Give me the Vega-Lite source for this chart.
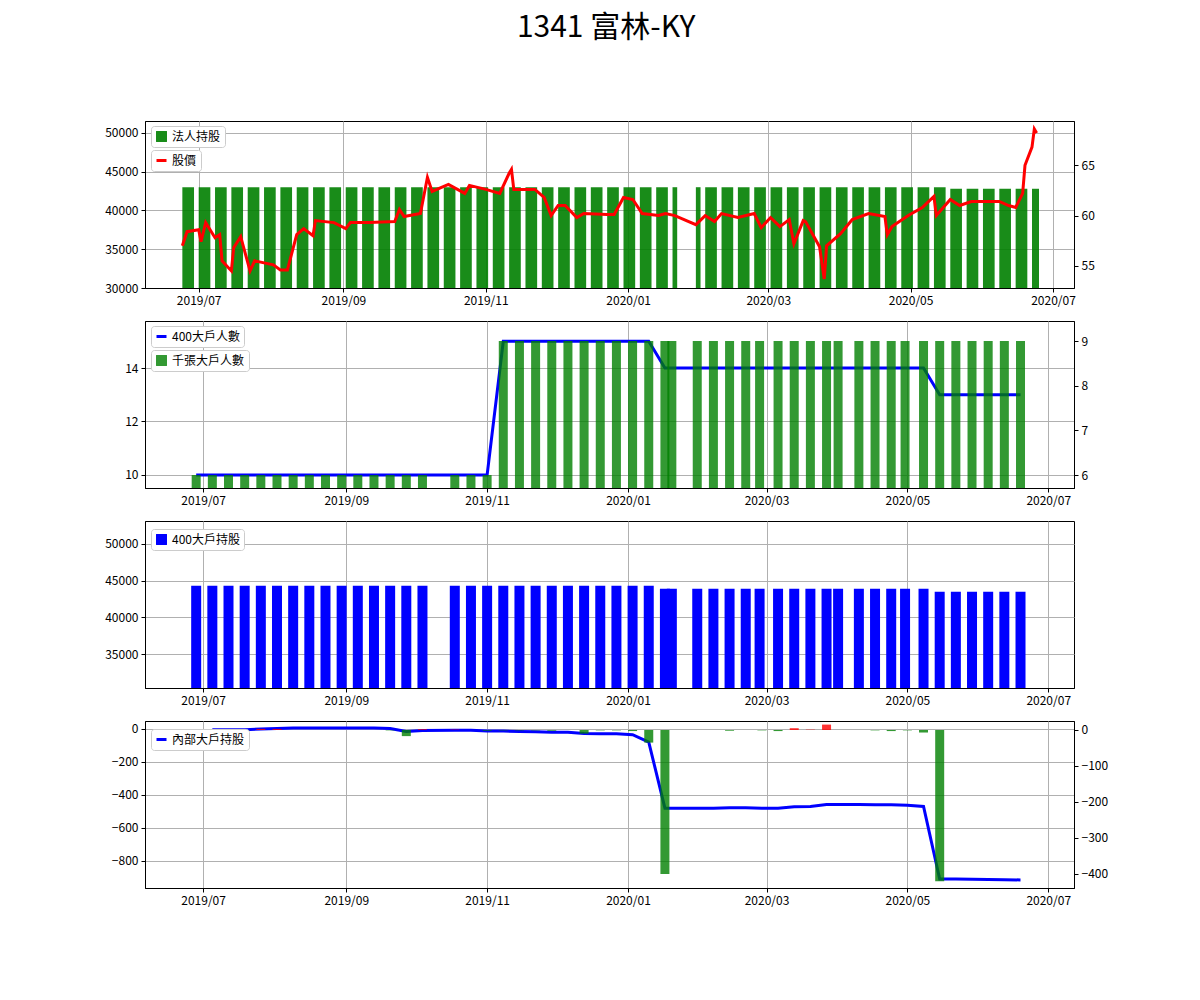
{
  "$schema": "https://vega.github.io/schema/vega-lite/v6.json",
  "padding": {"left": 104, "top": 12, "right": 10, "bottom": 10},
  "title": {"text": "1341 富林-KY", "fontSize": 30, "fontWeight": "normal", "font": "Noto Sans CJK TC", "offset": 78, "anchor": "middle"},
  "spacing": 13,
  "resolve": {"scale": {"color": "independent", "stroke": "independent"}, "legend": {"color": "independent", "stroke": "independent"}},
  "config": {
    "view": {"stroke": "black", "strokeWidth": 1},
    "font": "Noto Sans CJK TC",
    "axis": {"labelFontSize": 12, "labelColor": "black", "domainColor": "black", "tickColor": "black", "gridColor": "#b0b0b0", "title": null, "labelPadding": 3, "tickSize": 4},
    "axisQuantitative": {"format": "d"},
    "legend": {"orient": "none", "legendX": 6, "fillColor": "white", "strokeColor": "#cccccc", "padding": 4, "cornerRadius": 3, "labelFontSize": 12, "labelFont": "Noto Sans CJK TC", "title": null}
  },
  "datasets": {
    "p1bars": [
      {"s": "2019-06-24", "e": "2019-06-29", "v": 43000}, {"s": "2019-07-01", "e": "2019-07-06", "v": 43000},
      {"s": "2019-07-08", "e": "2019-07-13", "v": 43000}, {"s": "2019-07-15", "e": "2019-07-20", "v": 43000},
      {"s": "2019-07-22", "e": "2019-07-27", "v": 43000}, {"s": "2019-07-29", "e": "2019-08-03", "v": 43000},
      {"s": "2019-08-05", "e": "2019-08-10", "v": 43000}, {"s": "2019-08-12", "e": "2019-08-17", "v": 43000},
      {"s": "2019-08-19", "e": "2019-08-24", "v": 43000}, {"s": "2019-08-26", "e": "2019-08-31", "v": 43000},
      {"s": "2019-09-02", "e": "2019-09-07", "v": 43000}, {"s": "2019-09-09", "e": "2019-09-14", "v": 43000},
      {"s": "2019-09-16", "e": "2019-09-21", "v": 43000}, {"s": "2019-09-23", "e": "2019-09-28", "v": 43000},
      {"s": "2019-09-30", "e": "2019-10-05", "v": 43000}, {"s": "2019-10-07", "e": "2019-10-12", "v": 43000},
      {"s": "2019-10-14", "e": "2019-10-19", "v": 43000}, {"s": "2019-10-21", "e": "2019-10-26", "v": 43000},
      {"s": "2019-10-28", "e": "2019-11-02", "v": 43000}, {"s": "2019-11-04", "e": "2019-11-09", "v": 43000},
      {"s": "2019-11-11", "e": "2019-11-16", "v": 43000}, {"s": "2019-11-18", "e": "2019-11-23", "v": 43000},
      {"s": "2019-11-25", "e": "2019-11-30", "v": 43000}, {"s": "2019-12-02", "e": "2019-12-07", "v": 43000},
      {"s": "2019-12-09", "e": "2019-12-14", "v": 43000}, {"s": "2019-12-16", "e": "2019-12-21", "v": 43000},
      {"s": "2019-12-23", "e": "2019-12-28", "v": 43000}, {"s": "2019-12-30", "e": "2020-01-04", "v": 43000},
      {"s": "2020-01-06", "e": "2020-01-11", "v": 43000}, {"s": "2020-01-13", "e": "2020-01-18", "v": 43000},
      {"s": "2020-01-20", "e": "2020-01-22", "v": 43000}, {"s": "2020-01-30", "e": "2020-02-01", "v": 43000},
      {"s": "2020-02-03", "e": "2020-02-08", "v": 43000}, {"s": "2020-02-10", "e": "2020-02-15", "v": 43000},
      {"s": "2020-02-17", "e": "2020-02-22", "v": 43000}, {"s": "2020-02-24", "e": "2020-02-29", "v": 43000},
      {"s": "2020-03-02", "e": "2020-03-07", "v": 43000}, {"s": "2020-03-09", "e": "2020-03-14", "v": 43000},
      {"s": "2020-03-16", "e": "2020-03-21", "v": 43000}, {"s": "2020-03-23", "e": "2020-03-28", "v": 43000},
      {"s": "2020-03-30", "e": "2020-04-04", "v": 43000}, {"s": "2020-04-06", "e": "2020-04-11", "v": 43000},
      {"s": "2020-04-13", "e": "2020-04-18", "v": 43000}, {"s": "2020-04-20", "e": "2020-04-25", "v": 43000},
      {"s": "2020-04-27", "e": "2020-05-02", "v": 43000}, {"s": "2020-05-04", "e": "2020-05-09", "v": 43000},
      {"s": "2020-05-11", "e": "2020-05-16", "v": 43000}, {"s": "2020-05-18", "e": "2020-05-23", "v": 42800},
      {"s": "2020-05-25", "e": "2020-05-30", "v": 42800}, {"s": "2020-06-01", "e": "2020-06-06", "v": 42800},
      {"s": "2020-06-08", "e": "2020-06-13", "v": 42800}, {"s": "2020-06-15", "e": "2020-06-20", "v": 42800},
      {"s": "2020-06-22", "e": "2020-06-25", "v": 42800}
    ],
    "price": [
      {"d": "2019-06-24", "p": 57.0}, {"d": "2019-06-26", "p": 58.4}, {"d": "2019-07-01", "p": 58.6}, {"d": "2019-07-02", "p": 57.4},
      {"d": "2019-07-04", "p": 59.3}, {"d": "2019-07-08", "p": 57.8}, {"d": "2019-07-10", "p": 58.1}, {"d": "2019-07-11", "p": 55.5},
      {"d": "2019-07-15", "p": 54.5}, {"d": "2019-07-16", "p": 56.8}, {"d": "2019-07-19", "p": 57.9}, {"d": "2019-07-23", "p": 54.5},
      {"d": "2019-07-25", "p": 55.5}, {"d": "2019-08-02", "p": 55.1}, {"d": "2019-08-05", "p": 54.6}, {"d": "2019-08-08", "p": 54.6},
      {"d": "2019-08-12", "p": 58.1}, {"d": "2019-08-15", "p": 58.7}, {"d": "2019-08-19", "p": 58.0}, {"d": "2019-08-20", "p": 59.5},
      {"d": "2019-08-28", "p": 59.3}, {"d": "2019-09-02", "p": 58.7}, {"d": "2019-09-04", "p": 59.3}, {"d": "2019-09-12", "p": 59.3},
      {"d": "2019-09-23", "p": 59.4}, {"d": "2019-09-25", "p": 60.6}, {"d": "2019-09-27", "p": 59.9}, {"d": "2019-10-04", "p": 60.2},
      {"d": "2019-10-07", "p": 63.8}, {"d": "2019-10-09", "p": 62.4}, {"d": "2019-10-16", "p": 63.1}, {"d": "2019-10-23", "p": 62.2},
      {"d": "2019-10-25", "p": 63.0}, {"d": "2019-11-01", "p": 62.6}, {"d": "2019-11-07", "p": 62.2}, {"d": "2019-11-11", "p": 64.2},
      {"d": "2019-11-12", "p": 64.6}, {"d": "2019-11-13", "p": 62.6}, {"d": "2019-11-22", "p": 62.6}, {"d": "2019-11-26", "p": 61.8},
      {"d": "2019-11-29", "p": 60.0}, {"d": "2019-12-02", "p": 61.0}, {"d": "2019-12-05", "p": 61.0}, {"d": "2019-12-10", "p": 59.8},
      {"d": "2019-12-13", "p": 60.2}, {"d": "2019-12-23", "p": 60.1}, {"d": "2019-12-26", "p": 60.1}, {"d": "2019-12-30", "p": 61.8},
      {"d": "2020-01-03", "p": 61.6}, {"d": "2020-01-07", "p": 60.2}, {"d": "2020-01-14", "p": 60.0}, {"d": "2020-01-17", "p": 60.2},
      {"d": "2020-01-21", "p": 60.0}, {"d": "2020-01-30", "p": 59.1}, {"d": "2020-02-03", "p": 60.0}, {"d": "2020-02-07", "p": 59.4},
      {"d": "2020-02-10", "p": 60.2}, {"d": "2020-02-17", "p": 59.8}, {"d": "2020-02-24", "p": 60.2}, {"d": "2020-02-27", "p": 58.8},
      {"d": "2020-03-02", "p": 59.8}, {"d": "2020-03-06", "p": 58.9}, {"d": "2020-03-10", "p": 59.6}, {"d": "2020-03-12", "p": 57.2},
      {"d": "2020-03-16", "p": 59.5}, {"d": "2020-03-17", "p": 59.4}, {"d": "2020-03-23", "p": 56.9}, {"d": "2020-03-25", "p": 53.7},
      {"d": "2020-03-26", "p": 57.0}, {"d": "2020-04-01", "p": 58.2}, {"d": "2020-04-06", "p": 59.6}, {"d": "2020-04-13", "p": 60.2},
      {"d": "2020-04-20", "p": 59.9}, {"d": "2020-04-21", "p": 58.1}, {"d": "2020-04-23", "p": 58.9}, {"d": "2020-04-30", "p": 60.0},
      {"d": "2020-05-06", "p": 60.8}, {"d": "2020-05-11", "p": 61.9}, {"d": "2020-05-12", "p": 60.0}, {"d": "2020-05-18", "p": 61.6},
      {"d": "2020-05-22", "p": 61.0}, {"d": "2020-05-27", "p": 61.4}, {"d": "2020-06-08", "p": 61.4}, {"d": "2020-06-12", "p": 61.0},
      {"d": "2020-06-15", "p": 60.8}, {"d": "2020-06-18", "p": 62.2}, {"d": "2020-06-19", "p": 65.0}, {"d": "2020-06-22", "p": 66.8},
      {"d": "2020-06-23", "p": 68.6}, {"d": "2020-06-24", "p": 68.2}
    ],
    "weekly": [
      {"d": "2019-06-28", "n400": 10, "n1000": 6, "h400": 44300}, {"d": "2019-07-05", "n400": 10, "n1000": 6, "h400": 44300},
      {"d": "2019-07-12", "n400": 10, "n1000": 6, "h400": 44300}, {"d": "2019-07-19", "n400": 10, "n1000": 6, "h400": 44300},
      {"d": "2019-07-26", "n400": 10, "n1000": 6, "h400": 44300}, {"d": "2019-08-02", "n400": 10, "n1000": 6, "h400": 44300},
      {"d": "2019-08-09", "n400": 10, "n1000": 6, "h400": 44300}, {"d": "2019-08-16", "n400": 10, "n1000": 6, "h400": 44300},
      {"d": "2019-08-23", "n400": 10, "n1000": 6, "h400": 44300}, {"d": "2019-08-30", "n400": 10, "n1000": 6, "h400": 44300},
      {"d": "2019-09-06", "n400": 10, "n1000": 6, "h400": 44300}, {"d": "2019-09-13", "n400": 10, "n1000": 6, "h400": 44300},
      {"d": "2019-09-20", "n400": 10, "n1000": 6, "h400": 44300}, {"d": "2019-09-27", "n400": 10, "n1000": 6, "h400": 44300},
      {"d": "2019-10-04", "n400": 10, "n1000": 6, "h400": 44300}, {"d": "2019-10-18", "n400": 10, "n1000": 6, "h400": 44300},
      {"d": "2019-10-25", "n400": 10, "n1000": 6, "h400": 44300}, {"d": "2019-11-01", "n400": 10, "n1000": 6, "h400": 44300},
      {"d": "2019-11-08", "n400": 15, "n1000": 9, "h400": 44300}, {"d": "2019-11-15", "n400": 15, "n1000": 9, "h400": 44300},
      {"d": "2019-11-22", "n400": 15, "n1000": 9, "h400": 44300}, {"d": "2019-11-29", "n400": 15, "n1000": 9, "h400": 44300},
      {"d": "2019-12-06", "n400": 15, "n1000": 9, "h400": 44300}, {"d": "2019-12-13", "n400": 15, "n1000": 9, "h400": 44300},
      {"d": "2019-12-20", "n400": 15, "n1000": 9, "h400": 44300}, {"d": "2019-12-27", "n400": 15, "n1000": 9, "h400": 44300},
      {"d": "2020-01-03", "n400": 15, "n1000": 9, "h400": 44300}, {"d": "2020-01-10", "n400": 15, "n1000": 9, "h400": 44300},
      {"d": "2020-01-17", "n400": 14, "n1000": 9, "h400": 43900}, {"d": "2020-01-20", "n400": 14, "n1000": 9, "h400": 43900},
      {"d": "2020-01-31", "n400": 14, "n1000": 9, "h400": 43900}, {"d": "2020-02-07", "n400": 14, "n1000": 9, "h400": 43900},
      {"d": "2020-02-14", "n400": 14, "n1000": 9, "h400": 43900}, {"d": "2020-02-21", "n400": 14, "n1000": 9, "h400": 43900},
      {"d": "2020-02-27", "n400": 14, "n1000": 9, "h400": 43900}, {"d": "2020-03-06", "n400": 14, "n1000": 9, "h400": 43900},
      {"d": "2020-03-13", "n400": 14, "n1000": 9, "h400": 43900}, {"d": "2020-03-20", "n400": 14, "n1000": 9, "h400": 43900},
      {"d": "2020-03-27", "n400": 14, "n1000": 9, "h400": 43900}, {"d": "2020-04-01", "n400": 14, "n1000": 9, "h400": 43900},
      {"d": "2020-04-10", "n400": 14, "n1000": 9, "h400": 43900}, {"d": "2020-04-17", "n400": 14, "n1000": 9, "h400": 43900},
      {"d": "2020-04-24", "n400": 14, "n1000": 9, "h400": 43900}, {"d": "2020-04-30", "n400": 14, "n1000": 9, "h400": 43900},
      {"d": "2020-05-08", "n400": 14, "n1000": 9, "h400": 43900}, {"d": "2020-05-15", "n400": 13, "n1000": 9, "h400": 43500},
      {"d": "2020-05-22", "n400": 13, "n1000": 9, "h400": 43500}, {"d": "2020-05-29", "n400": 13, "n1000": 9, "h400": 43500},
      {"d": "2020-06-05", "n400": 13, "n1000": 9, "h400": 43500}, {"d": "2020-06-12", "n400": 13, "n1000": 9, "h400": 43500},
      {"d": "2020-06-19", "n400": 13, "n1000": 9, "h400": 43500}
    ],
    "inner": [
      {"d": "2019-07-05", "line": -5, "diff": -1}, {"d": "2019-07-12", "line": -5, "diff": -3}, {"d": "2019-07-19", "line": -5, "diff": -3},
      {"d": "2019-07-26", "line": 0, "diff": 3}, {"d": "2019-08-02", "line": 3, "diff": 3}, {"d": "2019-08-09", "line": 5, "diff": 0},
      {"d": "2019-08-16", "line": 5, "diff": 0}, {"d": "2019-08-23", "line": 5, "diff": 0}, {"d": "2019-08-30", "line": 5, "diff": 0},
      {"d": "2019-09-06", "line": 5, "diff": 0}, {"d": "2019-09-13", "line": 5, "diff": 0}, {"d": "2019-09-20", "line": 3, "diff": -1},
      {"d": "2019-09-27", "line": -15, "diff": -17}, {"d": "2019-10-04", "line": -10, "diff": 2}, {"d": "2019-10-18", "line": -8, "diff": 1},
      {"d": "2019-10-25", "line": -8, "diff": 0}, {"d": "2019-11-01", "line": -12, "diff": -2}, {"d": "2019-11-08", "line": -13, "diff": -1},
      {"d": "2019-11-15", "line": -15, "diff": -1}, {"d": "2019-11-22", "line": -17, "diff": -1}, {"d": "2019-11-29", "line": -20, "diff": -2},
      {"d": "2019-12-06", "line": -20, "diff": 0}, {"d": "2019-12-13", "line": -28, "diff": -10}, {"d": "2019-12-20", "line": -29, "diff": -1},
      {"d": "2019-12-27", "line": -30, "diff": -1}, {"d": "2020-01-03", "line": -35, "diff": -3}, {"d": "2020-01-10", "line": -80, "diff": -35},
      {"d": "2020-01-17", "line": -480, "diff": -400}, {"d": "2020-01-31", "line": -480, "diff": 0}, {"d": "2020-02-07", "line": -480, "diff": 0},
      {"d": "2020-02-14", "line": -478, "diff": -2}, {"d": "2020-02-21", "line": -478, "diff": 0}, {"d": "2020-02-28", "line": -480, "diff": -1},
      {"d": "2020-03-06", "line": -480, "diff": -3}, {"d": "2020-03-13", "line": -472, "diff": 5}, {"d": "2020-03-20", "line": -470, "diff": 1},
      {"d": "2020-03-27", "line": -458, "diff": 15}, {"d": "2020-04-03", "line": -458, "diff": 0}, {"d": "2020-04-10", "line": -458, "diff": 0},
      {"d": "2020-04-17", "line": -460, "diff": -1}, {"d": "2020-04-24", "line": -460, "diff": -3}, {"d": "2020-05-01", "line": -462, "diff": -1},
      {"d": "2020-05-08", "line": -470, "diff": -7}, {"d": "2020-05-15", "line": -910, "diff": -420}, {"d": "2020-05-22", "line": -910, "diff": 0},
      {"d": "2020-05-29", "line": -911, "diff": 0}, {"d": "2020-06-05", "line": -912, "diff": 0}, {"d": "2020-06-12", "line": -914, "diff": 0},
      {"d": "2020-06-19", "line": -915, "diff": 0}
    ]
  },
  "vconcat": [
    {
      "width": 929, "height": 167,
      "resolve": {"scale": {"y": "independent", "color": "independent", "stroke": "independent"}},
      "layer": [
        {
          "data": {"name": "p1bars"},
          "mark": {"type": "rect", "opacity": 0.9},
          "encoding": {
            "x": {"field": "s", "type": "temporal", "scale": {"type": "utc", "domain": ["2019-06-08", "2020-07-10"]}, "axis": {"format": "%Y/%m", "grid": true, "values": ["2019-07-01", "2019-09-01", "2019-11-01", "2020-01-01", "2020-03-01", "2020-05-01", "2020-07-01"]}},
            "x2": {"field": "e"},
            "y": {"field": "v", "type": "quantitative", "scale": {"domain": [30000, 51540], "nice": false, "zero": false}, "axis": {"grid": true, "values": [30000, 35000, 40000, 45000, 50000]}},
            "y2": {"datum": 30000},
            "color": {"datum": "法人持股", "scale": {"range": ["#008000"]}, "legend": {"symbolType": "square", "symbolSize": 120, "legendY": 5}}
          }
        },
        {
          "data": {"name": "price"},
          "mark": {"type": "line", "strokeWidth": 3},
          "encoding": {
            "x": {"field": "d", "type": "temporal"},
            "y": {"field": "p", "type": "quantitative", "scale": {"domain": [52.8, 69.4], "nice": false, "zero": false}, "axis": {"orient": "right", "grid": false, "values": [55, 60, 65]}},
            "stroke": {"datum": "股價", "scale": {"range": ["red"]}, "legend": {"symbolType": "stroke", "symbolStrokeWidth": 3, "legendY": 29}}
          }
        }
      ]
    },
    {
      "width": 929, "height": 167,
      "data": {"name": "weekly"},
      "resolve": {"scale": {"y": "independent", "color": "independent", "stroke": "independent"}},
      "layer": [
        {
          "mark": {"type": "line", "strokeWidth": 3},
          "encoding": {
            "x": {"field": "d", "type": "temporal", "scale": {"type": "utc", "domain": ["2019-06-08", "2020-07-10"]}, "axis": {"format": "%Y/%m", "grid": true, "values": ["2019-07-01", "2019-09-01", "2019-11-01", "2020-01-01", "2020-03-01", "2020-05-01", "2020-07-01"]}},
            "y": {"field": "n400", "type": "quantitative", "scale": {"domain": [9.51, 15.76], "nice": false, "zero": false}, "axis": {"grid": true, "values": [10, 12, 14]}},
            "stroke": {"datum": "400大戶人數", "scale": {"range": ["blue"]}, "legend": {"symbolType": "stroke", "symbolStrokeWidth": 3, "legendY": 5}}
          }
        },
        {
          "mark": {"type": "bar", "size": 9, "opacity": 0.8},
          "encoding": {
            "x": {"field": "d", "type": "temporal"},
            "y": {"field": "n1000", "type": "quantitative", "scale": {"domain": [5.71, 9.45], "nice": false, "zero": false}, "axis": {"orient": "right", "grid": false, "values": [6, 7, 8, 9]}},
            "y2": {"datum": 5.71},
            "color": {"datum": "千張大戶人數", "scale": {"range": ["green"]}, "legend": {"symbolType": "square", "symbolSize": 120, "legendY": 29}}
          }
        }
      ]
    },
    {
      "width": 929, "height": 167,
      "data": {"name": "weekly"},
      "mark": {"type": "bar", "size": 10},
      "encoding": {
        "x": {"field": "d", "type": "temporal", "scale": {"type": "utc", "domain": ["2019-06-08", "2020-07-10"]}, "axis": {"format": "%Y/%m", "grid": true, "values": ["2019-07-01", "2019-09-01", "2019-11-01", "2020-01-01", "2020-03-01", "2020-05-01", "2020-07-01"]}},
        "y": {"field": "h400", "type": "quantitative", "scale": {"domain": [30400, 53100], "nice": false, "zero": false}, "axis": {"grid": true, "values": [35000, 40000, 45000, 50000]}},
        "y2": {"datum": 30400},
        "color": {"datum": "400大戶持股", "scale": {"range": ["blue"]}, "legend": {"symbolType": "square", "symbolSize": 120, "legendY": 8}}
      }
    },
    {
      "width": 929, "height": 167,
      "data": {"name": "inner"},
      "resolve": {"scale": {"y": "independent", "color": "independent", "stroke": "independent"}},
      "layer": [
        {
          "mark": {"type": "line", "strokeWidth": 3},
          "encoding": {
            "x": {"field": "d", "type": "temporal", "scale": {"type": "utc", "domain": ["2019-06-08", "2020-07-10"]}, "axis": {"format": "%Y/%m", "grid": true, "values": ["2019-07-01", "2019-09-01", "2019-11-01", "2020-01-01", "2020-03-01", "2020-05-01", "2020-07-01"]}},
            "y": {"field": "line", "type": "quantitative", "scale": {"domain": [-964, 48], "nice": false, "zero": false}, "axis": {"grid": true, "values": [0, -200, -400, -600, -800]}},
            "stroke": {"datum": "內部大戶持股", "scale": {"range": ["blue"]}, "legend": {"symbolType": "stroke", "symbolStrokeWidth": 3, "legendY": 8}}
          }
        },
        {
          "mark": {"type": "bar", "size": 9, "opacity": 0.8},
          "encoding": {
            "x": {"field": "d", "type": "temporal"},
            "y": {"field": "diff", "type": "quantitative", "scale": {"domain": [-439, 25], "nice": false, "zero": false}, "axis": {"orient": "right", "grid": false, "values": [0, -100, -200, -300, -400]}},
            "y2": {"datum": 0},
            "color": {"condition": {"test": "datum.diff < 0", "value": "green"}, "value": "red"}
          }
        }
      ]
    }
  ]
}
